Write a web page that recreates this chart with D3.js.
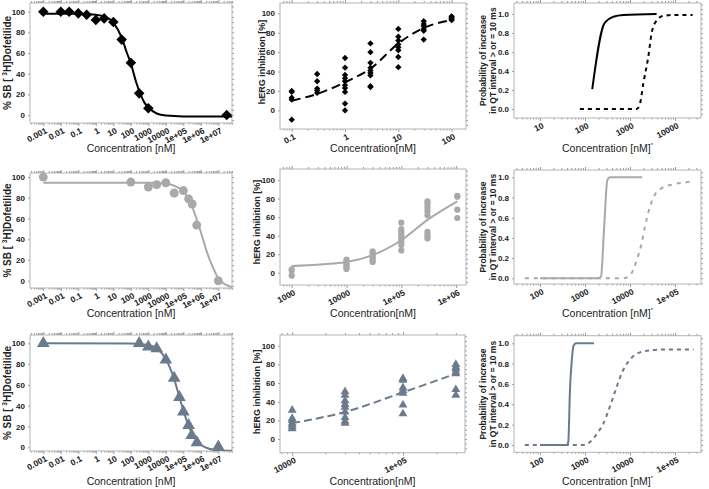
<!DOCTYPE html>
<html><head><meta charset="utf-8">
<script src="https://cdn.jsdelivr.net/npm/d3@7"></script>
<style>body{margin:0;background:#fff} svg{display:block} text{font-family:"Liberation Sans",Arial,Helvetica,sans-serif}</style>
</head><body><svg id="c" width="709" height="489"></svg>
<script>
// ---------------- DATA ----------------
// Row 1 (black)
const aConc = [0.001,0.01,0.03,0.1,0.3,1,3,10,30,100,300,1000,3e7];
const aBind = [100,100,100,98.4,97,92,93.5,90,73,50.6,21,6.5,0];
const aFitConc = [0.001,0.1,1,3,10,30,60,100,200,300,600,1000,3000,1e4,1e5,6e7];
const aFitVal  = [98,98,97,95.5,89.5,75,60,50,32,23.5,12,7.5,1.5,-0.5,-1.3,-1.5];

const bConc = [0.1,0.1,0.1,0.1,0.1, 0.3,0.3,0.3,0.3,0.3, 1,1,1,1,1,1,1,1,1,1, 3,3,3,3,3,3,3,3,3, 10,10,10,10,10,10,10,10, 30,30,30,30,30,30, 100,100,100,100,100];
const bInh  = [20,19,13,11,-9.6, 37.5,30,22.5,20.5,18, 54,44,36.5,33,30,26,23,19,7,0, 69,60,49,44,41,38.5,36,25,24, 84,76,72,68,65,62,55,44.5, 92,89,87,84,82,73, 97,96,95,94,93];
const bFitConc = [0.1,0.3,1,3,10,30,100];
const bFitVal  = [10,17,29,43,69,85,93];

const cSolidConc = [145,269,426,710,3900];
const cSolidVal  = [0.21,0.9,0.97,0.99,1.0];
const cDashConc  = [77,1410,1670,1980,2550,3030,3900,5500,11000,24600];
const cDashVal   = [0,0,0.06,0.27,0.55,0.8,0.93,0.98,0.99,0.99];

// Row 2 (grey)
const dConc = [0.001,100,1000,3000,1e4,3e4,1e5,2e5,3.2e5,5.8e5,1e7];
const dBind = [100,95.2,90.4,92.6,94.5,84.6,87,79,74,53.7,0];
const dFitConc = [0.001,1,1000,1e4,3e4,1e5,2e5,3e5,6e5,1e6,2e6,3e6,6e6,1e7,2e7,3e7,6e7];
const dFitVal  = [94.5,94.5,94.4,93.6,91.8,86,79,72.7,58.5,47,30,21.5,9.5,2,-2.5,-4.3,-6.2];

const eConc = [1000,1000,1000, 1e4,1e4,1e4,1e4,1e4,1e4,1e4, 3e4,3e4,3e4,3e4,3e4,3e4,3e4, 1e5,1e5,1e5,1e5,1e5,1e5,1e5,1e5,1e5, 3e5,3e5,3e5,3e5,3e5,3e5,3e5,3e5,3e5,3e5, 1.05e6,1.05e6,1.05e6,1.05e6];
const eInh  = [3.5,2,-3.2, 14,12,10,8.5,7,5,4, 23,21,19,17,15,13,11.5, 54,47,44,41,39,36,33,30,24, 77,75,72,69,66,62,44,41.5,39,37, 83,82,68,59];
const eFitConc = [1000,1e4,3e4,1e5,3e5,1.05e6];
const eFitVal  = [7.2,11.5,19,35,57,77];

const fSolidConc = [100,2000,2270,2660,3130,3590,18700];
const fSolidVal  = [0,0,0.02,0.5,0.97,1.0,1.0];
const fDashConc  = [46,7000,1e4,14100,18200,21500,27800,36000,50000,91000,180000,260000];
const fDashVal   = [0,0,0.03,0.18,0.35,0.51,0.71,0.83,0.89,0.93,0.95,0.96];

// Row 3 (slate)
const gConc = [0.001,300,1000,3000,1e4,3e4,6e4,1e5,2e5,3e5,6e5,1e7];
const gBind = [100,100,96.5,95,84,66.5,48,34,21,11.5,4.5,0.5];
const gFitConc = [0.001,100,1000,3000,1e4,3e4,6e4,1e5,2e5,3e5,6e5,1e6,3e6,1e7,6e7];
const gFitVal  = [100,99.8,98.3,95,85,65.5,48,35.5,20.5,14,6,2.5,-1.5,-2.9,-3.4];

const hConc = [1e4,1e4,1e4,1e4,1e4,1e4,1e4, 3e4,3e4,3e4,3e4,3e4,3e4,3e4,3e4,3e4, 1e5,1e5,1e5,1e5,1e5,1e5,1e5, 3e5,3e5,3e5,3e5,3e5,3e5,3e5];
const hInh  = [31,22,20,17,15,13,11, 50.7,47,41,37,34,29,23,19,17, 65,63,55,52,49,36.4,27, 80,77,75,72,70,53,47];
const hFitConc = [1e4,3e4,1e5,3e5];
const hFitVal  = [17,29,50,70];

const iSolidConc = [100,392,425,464,506,550,630,1585];
const iSolidVal  = [0,0,0.03,0.55,0.82,0.97,1.0,1.0];
const iDashConc  = [46,915,1290,1980,2550,3590,5050,7100,10000,19800,55000,260000];
const iDashVal   = [0,0,0.03,0.13,0.21,0.38,0.57,0.74,0.84,0.92,0.94,0.94];

// Tick labels
const bindTicks = [0,20,40,60,80,100];
const inhTicks = [0,20,40,60,80,100];
const probTicks = [0,0.2,0.4,0.6,0.8,1.0];
const probTickLabels = ["0.0","0.2","0.4","0.6","0.8","1.0"];
const wideXTicks = [1e-3,1e-2,1e-1,1,10,100,1000,1e4,1e5,1e6,1e7];
const wideXLabels = ["0.001","0.01","0.1","1","10","100","1000","10000","1e+05","1e+06","1e+07"];
const bXTicks = [0.1,1,10,100], bXLabels = ["0.1","1","10","100"];
const cXTicks = [10,100,1000,1e4], cXLabels = ["10","100","1000","10000"];
const eXTicks = [1000,1e4,1e5,1e6], eXLabels = ["1000","10000","1e+05","1e+06"];
const fXTicks = [100,1000,1e4,1e5], fXLabels = ["100","1000","10000","1e+05"];
const hXTicks = [1e4,1e5], hXLabels = ["10000","1e+05"];

// ---------------- DRAWING ----------------
const svg = d3.select("#c");
const black = "#000000", grey = "#a9a9a9", slate = "#6b7b8d";
const boxCol = "#b4b4b4", tickCol = "#9a9a9a", labCol = "#222";
let clipId = 0;

function pairs(xs, ys){ return xs.map((x,i)=>[x, ys[i]]); }

function panel(o){
  const [x0,x1] = o.bx, [y0,y1] = o.by;
  const x = d3.scaleLog().domain(o.xd).range([x0,x1]);
  const y = d3.scaleLinear().domain(o.yd).range([y1,y0]);
  const g = svg.append("g");
  const cid = "clip"+(clipId++);
  g.append("clipPath").attr("id",cid).append("rect").attr("x",x0).attr("y",y0).attr("width",x1-x0).attr("height",y1-y0);

  const minor = [];
  const lo = Math.floor(Math.log10(o.xd[0])), hi = Math.ceil(Math.log10(o.xd[1]));
  for (let d=lo; d<=hi; d++) for (let k=2;k<=9;k++){ const v=k*Math.pow(10,d); if(v>o.xd[0]&&v<o.xd[1]) minor.push(v); }
  const grey1 = s=>{s.select(".domain").remove(); s.selectAll("line").attr("stroke",tickCol);};
  g.append("g").attr("transform",`translate(0,${y0})`)
    .call(d3.axisTop(x).tickValues(minor).tickSize(2).tickFormat("")).call(grey1);
  g.append("g").attr("transform",`translate(0,${y0})`)
    .call(d3.axisTop(x).tickValues(o.xt).tickSize(3).tickFormat("")).call(grey1);
  g.append("g").attr("transform",`translate(0,${y1})`)
    .call(d3.axisBottom(x).tickValues(minor).tickSize(1.5).tickFormat("")).call(grey1);
  g.append("g").attr("transform",`translate(0,${y1})`)
    .call(d3.axisBottom(x).tickValues(o.xt).tickSize(3).tickFormat("")).call(grey1);
  const step = (o.yt[1]-o.yt[0])/4;
  const rMinor = d3.range(Math.ceil(o.yd[0]/step)*step, o.yd[1], step);
  g.append("g").attr("transform",`translate(${x1},0)`)
    .call(d3.axisRight(y).tickValues(rMinor).tickSize(2).tickFormat("")).call(grey1);
  g.append("g").attr("transform",`translate(${x0},0)`)
    .call(d3.axisLeft(y).tickValues(o.yt).tickSize(2).tickPadding(3).tickFormat((d,i)=>o.ytl ? o.ytl[i] : String(d)))
    .call(s=>{grey1(s);
      s.selectAll("text").attr("font-size",8).attr("font-weight","bold").attr("fill",labCol)
       .style("font-family",'"Liberation Sans",Arial,sans-serif');});
  const xa = g.append("g").attr("transform",`translate(0,${y1})`)
    .call(d3.axisBottom(x).tickValues(o.xt).tickSize(0).tickFormat((d,i)=>o.xtl[i]));
  xa.select(".domain").remove();
  xa.selectAll(".tick text").attr("text-anchor","end").attr("x",0).attr("y",0).attr("dy","0.72em")
    .attr("transform","translate(1,4) rotate(-28)")
    .attr("font-size",8.5).attr("font-weight","bold").attr("fill",labCol)
    .style("font-family",'"Liberation Sans",Arial,sans-serif');

  g.append("rect").attr("x",x0).attr("y",y0).attr("width",x1-x0).attr("height",y1-y0)
    .attr("fill","none").attr("stroke",boxCol).attr("stroke-width",1);

  const plot = g.append("g").attr("clip-path",`url(#${cid})`);
  const line = d3.line().x(d=>x(d[0])).y(d=>y(d[1])).curve(d3.curveMonotoneX);
  (o.lines||[]).forEach(L=>{
    plot.append("path").attr("d",line(L.data)).attr("fill","none").attr("stroke",L.color)
      .attr("stroke-width",L.w||2).attr("stroke-dasharray",L.dash||null);
  });
  if (o.points){
    const P = o.points;
    const sym = d3.symbol().type(P.type).size(P.size);
    g.append("g").selectAll("path").data(P.data).join("path")
      .attr("d",sym()).attr("fill",P.color)
      .attr("transform",d=>`translate(${x(d[0])},${y(d[1])})${P.rot?" rotate(45)":""}`);
  }
  const xt = g.append("text").attr("x",(x0+x1)/2).attr("y",o.xty).attr("text-anchor","middle")
    .attr("font-size",10.5).attr("fill","#222");
  xt.append("tspan").text(o.xTitle);
  if (o.star) xt.append("tspan").attr("font-size",6).attr("dy",-5).text("*");
  const cy = (y0+y1)/2 + (o.yoff||0);
  o.yTitle.forEach((t,k)=>{
    const tt = g.append("text").attr("transform",`translate(${o.ytx[k]},${cy}) rotate(-90)`)
      .attr("text-anchor","middle").attr("font-size",o.yfs).attr("font-weight","bold").attr("fill","#222");
    if (t === "SB"){
      tt.append("tspan").text("% SB [ ");
      tt.append("tspan").attr("font-size",o.yfs*0.65).attr("dy",-4).text("3");
      tt.append("tspan").attr("dy",4).text("H]Dofetilide");
    } else tt.text(t);
  });
}

const L10 = v=>Math.pow(10,v);
const wideXD = [L10(-3.76), L10(7.78)];
const probTitle = ["Probability of  increase","in QT interval > or = 10 ms"];

// Row 1
panel({bx:[30,232], by:[3,123], xd:wideXD, yd:[-7.7,108.4], xt:wideXTicks, xtl:wideXLabels, yt:bindTicks,
  xTitle:"Concentration [nM]", xty:151.5, yTitle:["SB"], ytx:[10.5], yfs:10,
  lines:[{data:pairs(aFitConc,aFitVal), color:black, w:2}],
  points:{data:pairs(aConc,aBind), type:d3.symbolSquare, size:56, rot:true, color:black}});
panel({bx:[280,466], by:[3,129], xd:[L10(-1.22),L10(2.27)], yd:[-19.2,110.7], xt:bXTicks, xtl:bXLabels, yt:inhTicks,
  xTitle:"Concentration[nM]", xty:152, yTitle:["hERG inhibition [%]"], ytx:[265], yfs:9, yoff:-4,
  lines:[{data:pairs(bFitConc,bFitVal), color:black, w:2, dash:"9,5"}],
  points:{data:pairs(bConc,bInh), type:d3.symbolSquare, size:20, rot:true, color:black}});
panel({bx:[514,701], by:[3,118], xd:[L10(0.422),L10(4.578)], yd:[-0.094,1.115], xt:cXTicks, xtl:cXLabels, yt:probTicks, ytl:probTickLabels,
  xTitle:"Concentration [nM]", star:true, xty:152, yTitle:probTitle, ytx:[486,495.5], yfs:8.5,
  lines:[{data:pairs(cSolidConc,cSolidVal), color:black, w:2},{data:pairs(cDashConc,cDashVal), color:black, w:2, dash:"4,4"}]});

// Row 2
panel({bx:[30,232], by:[173,288], xd:wideXD, yd:[-7.0,103.9], xt:wideXTicks, xtl:wideXLabels, yt:bindTicks,
  xTitle:"Concentration [nM]", xty:317, yTitle:["SB"], ytx:[11], yfs:10,
  lines:[{data:pairs(dFitConc,dFitVal), color:grey, w:2}],
  points:{data:pairs(dConc,dBind), type:d3.symbolCircle, size:62, color:grey}});
panel({bx:[280,466], by:[169,285], xd:[L10(2.787),L10(6.18)], yd:[-13.3,111.9], xt:eXTicks, xtl:eXLabels, yt:inhTicks,
  xTitle:"Concentration[nM]", xty:317, yTitle:["hERG inhibition [%]"], ytx:[260], yfs:9, yoff:-5,
  lines:[{data:pairs(eFitConc,eFitVal), color:grey, w:2}],
  points:{data:pairs(eConc,eInh), type:d3.symbolCircle, size:30, color:grey}});
panel({bx:[514,701], by:[170,284], xd:[L10(1.422),L10(5.578)], yd:[-0.056,1.072], xt:fXTicks, xtl:fXLabels, yt:probTicks, ytl:probTickLabels,
  xTitle:"Concentration [nM]", star:true, xty:317, yTitle:probTitle, ytx:[486,495.5], yfs:8.5,
  lines:[{data:pairs(fSolidConc,fSolidVal), color:grey, w:2},{data:pairs(fDashConc,fDashVal), color:grey, w:2, dash:"4,5"}]});

// Row 3
panel({bx:[30,232], by:[335,451], xd:wideXD, yd:[-3.6,108], xt:wideXTicks, xtl:wideXLabels, yt:bindTicks,
  xTitle:"Concentration [nM]", xty:484.5, yTitle:["SB"], ytx:[11], yfs:10,
  lines:[{data:pairs(gFitConc,gFitVal), color:slate, w:2}],
  points:{data:pairs(gConc,gBind), type:d3.symbolTriangle, size:70, color:slate}});
panel({bx:[280,465], by:[335,452.7], xd:[L10(3.89),L10(5.56)], yd:[-14.7,111.5], xt:hXTicks, xtl:hXLabels, yt:inhTicks,
  xTitle:"Concentration[nM]", xty:484.5, yTitle:["hERG inhibition [%]"], ytx:[260], yfs:9, yoff:-2,
  lines:[{data:pairs(hFitConc,hFitVal), color:slate, w:2, dash:"8,4"}],
  points:{data:pairs(hConc,hInh), type:d3.symbolTriangle, size:34, color:slate}});
panel({bx:[514,701], by:[335.7,452.3], xd:[L10(1.422),L10(5.578)], yd:[-0.072,1.075], xt:fXTicks, xtl:fXLabels, yt:probTicks, ytl:probTickLabels,
  xTitle:"Concentration [nM]", star:true, xty:484.5, yTitle:probTitle, ytx:[486,495.5], yfs:8.5,
  lines:[{data:pairs(iSolidConc,iSolidVal), color:slate, w:2},{data:pairs(iDashConc,iDashVal), color:slate, w:2, dash:"4,4"}]});
</script></body></html>
